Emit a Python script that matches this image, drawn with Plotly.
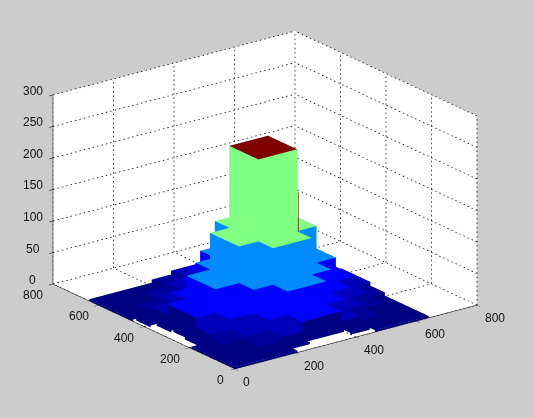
import plotly.graph_objects as go

x_edges = [0, 64, 128, 206, 270, 334, 398, 462, 526, 590, 640]
y_edges = [0, 64, 128, 192, 256, 320, 384, 448, 512, 576, 640]
level_heights = [0, 3, 8, 14, 30, 67, 125, 255]
level_colors = ["#ffffff", "#000082", "#00009b", "#0000bb", "#0000ff", "#008cff", "#80ff80", "#800000"]
levels = [
    [1, 1, 1, 1, 1, 1, 1, 1, 1, 1],
    [1, 1, 2, 3, 4, 4, 3, 2, 1, 1],
    [1, 2, 3, 4, 5, 5, 4, 3, 2, 1],
    [1, 3, 4, 5, 6, 6, 5, 4, 3, 2],
    [1, 4, 5, 6, 7, 7, 6, 5, 4, 3],
    [1, 4, 5, 6, 7, 7, 6, 5, 4, 3],
    [1, 3, 4, 5, 6, 6, 5, 4, 3, 2],
    [1, 2, 3, 4, 5, 5, 4, 3, 2, 1],
    [1, 1, 2, 3, 4, 4, 3, 2, 1, 1],
    [1, 1, 1, 2, 3, 3, 2, 1, 1, 1],
]
# uncovered floor depth along the two front edges of the block (by row / by column)
left_gap = [0, 0, 0, 27, 37, 30, 10, 0, 0, 0]
front_gap = [0, 0, 0, 30, 50, 50, 22, 0, 0, 0]
x_ticks = [0, 200, 400, 600, 800]
y_ticks = [0, 200, 400, 600, 800]
z_ticks = [0, 50, 100, 150, 200, 250, 300]
seam_red = dict(x=[400, 400], y=[254, 254], z=[125, 187])
seam_cyan = dict(x=[463, 463], y=[254, 254], z=[38, 67])

VX, VY, VZ, I, J, K, FC = [], [], [], [], [], [], []

def quad(p, color):
    n = len(VX)
    for a, b, c in p:
        VX.append(a); VY.append(b); VZ.append(c)
    I.extend([n, n]); J.extend([n + 1, n + 2]); K.extend([n + 2, n + 3])
    FC.extend([color, color])

def lev(i, j):
    if 0 <= i < 10 and 0 <= j < 10:
        return levels[j][i]
    return 0

for j in range(10):
    for i in range(10):
        L = levels[j][i]
        if L == 0:
            continue
        h = level_heights[L]
        x0, x1 = x_edges[i], x_edges[i + 1]
        y0, y1 = y_edges[j], y_edges[j + 1]
        if i == 0:
            x0 += left_gap[j]
        if j == 0:
            y0 += front_gap[i]
        quad([(x0, y0, h), (x1, y0, h), (x1, y1, h), (x0, y1, h)], level_colors[L])
        for di, dj, a, b in [(-1, 0, (x0, y0), (x0, y1)), (1, 0, (x1, y0), (x1, y1)),
                             (0, -1, (x0, y0), (x1, y0)), (0, 1, (x0, y1), (x1, y1))]:
            N = lev(i + di, j + dj)
            if N < L:
                nh = level_heights[N]
                col = level_colors[N] if N > 0 else level_colors[1]
                quad([(a[0], a[1], nh), (b[0], b[1], nh), (b[0], b[1], h), (a[0], a[1], h)], col)

bars = go.Mesh3d(x=VX, y=VY, z=VZ, i=I, j=J, k=K, facecolor=FC, flatshading=True,
                 lighting=dict(ambient=1, diffuse=0, specular=0, fresnel=0, roughness=1),
                 hoverinfo="skip", showscale=False)

gx, gy, gz = [], [], []
def seg(a, b, n):
    for q in range(n + 1):
        s = q / n
        e = min(1, s + 0.33 / n)
        gx.extend([a[0] + (b[0] - a[0]) * s, a[0] + (b[0] - a[0]) * e, None])
        gy.extend([a[1] + (b[1] - a[1]) * s, a[1] + (b[1] - a[1]) * e, None])
        gz.extend([a[2] + (b[2] - a[2]) * s, a[2] + (b[2] - a[2]) * e, None])

xm, ym, zm = x_ticks[-1], y_ticks[-1], z_ticks[-1]
for t in x_ticks:
    seg((t, ym, 0), (t, ym, zm), 42)
    seg((t, 0, 0), (t, ym, 0), 45)
for t in y_ticks:
    seg((xm, t, 0), (xm, t, zm), 42)
    seg((0, t, 0), (xm, t, 0), 55)
for t in z_ticks:
    seg((0, ym, t), (xm, ym, t), 55)
    seg((xm, 0, t), (xm, ym, t), 45)
grid = go.Scatter3d(x=gx, y=gy, z=gz, mode="lines", line=dict(color="black", width=1.5),
                    hoverinfo="skip", showlegend=False)
red_line = go.Scatter3d(**seam_red, mode="lines", line=dict(color="#601000", width=1.5),
                        hoverinfo="skip", showlegend=False)
cyan_line = go.Scatter3d(**seam_cyan, mode="lines", line=dict(color="#60ffc0", width=1.5),
                         hoverinfo="skip", showlegend=False)

def axis(rng, ticks):
    return dict(range=rng, tickvals=ticks, title=dict(text=""), autorange=False,
                showgrid=False, zeroline=False, showline=True, linecolor="black", linewidth=1,
                ticks="outside", ticklen=5, tickcolor="black", tickwidth=1, showticklabels=False,
                showbackground=True, backgroundcolor="white", showspikes=False)

font = dict(family="Liberation Sans", size=12, color="#111111")
notes = []
for t in x_ticks:
    notes.append(dict(x=t, y=0, z=0, text=str(t), showarrow=False, font=font,
                      xshift=11 if t == 0 else 18, yshift=-13))
for t in y_ticks:
    notes.append(dict(x=0, y=t, z=0, text=str(t), showarrow=False, font=font,
                      xshift=-15 if t == 0 else -20, yshift=-11))
for t in z_ticks:
    notes.append(dict(x=0, y=ym, z=t, text=str(t), showarrow=False, font=font, xshift=-20, yshift=4))

fig = go.Figure([grid, bars, red_line, cyan_line])
fig.update_layout(
    width=534, height=418, margin=dict(l=0, r=0, t=0, b=0), paper_bgcolor="#cccccc",
    showlegend=False,
    scene=dict(
        domain=dict(x=[0, 530 / 534], y=[18 / 418, 1]),
        xaxis=axis([0, xm], x_ticks), yaxis=axis([0, ym], y_ticks), zaxis=axis([0, zm], z_ticks),
        annotations=notes,
        aspectmode="manual", aspectratio=dict(x=1.514, y=1.514, z=1.01),
        camera=dict(projection=dict(type="orthographic"),
                    up=dict(x=0, y=0, z=1), center=dict(x=0, y=0, z=0),
                    eye=dict(x=-0.562 * 1.325, y=-0.747 * 1.325, z=0.350 * 1.325)),
    ),
)
fig.write_html("out.html", config={"displayModeBar": False},
               post_script="document.body.style.margin='0';document.body.style.background='#cccccc';")
